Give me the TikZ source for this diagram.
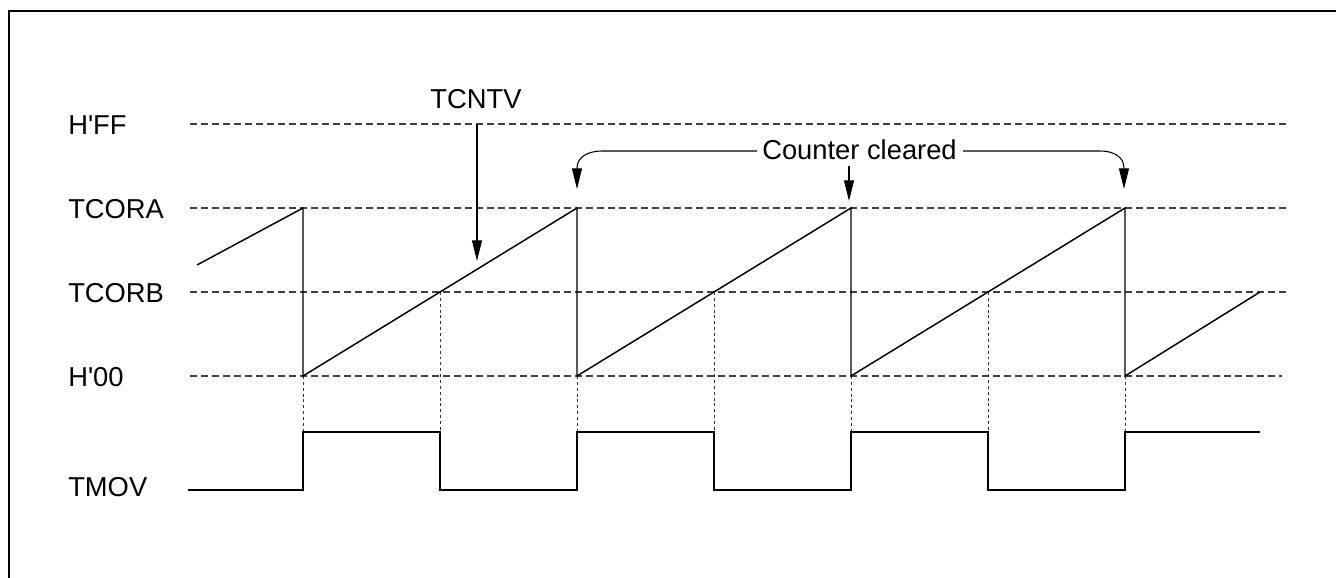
\documentclass[tikz,border=0pt]{standalone}
\usepackage{fontspec}
\setmainfont{Liberation Sans}
\usetikzlibrary{arrows.meta}
\begin{document}
\begin{tikzpicture}[x=0.75pt,y=-0.75pt,
  lbl/.style={font=\fontsize{20.5}{24}\selectfont,inner sep=0pt},
  levelline/.style={line width=0.8pt,draw=black!75,dash pattern=on 5.25pt off 3pt},
  guide/.style={line width=0.6pt,draw=black!80,dash pattern=on 2.2pt off 2.2pt},
  sig/.style={line width=1.1pt,line join=miter},
  pointer/.style={line width=0.8pt,-{Triangle[length=15.5pt,width=7.5pt]}}]
\useasboundingbox (0,0) rectangle (1336,578);
% frame
\draw[line width=1.5pt] (9,578) -- (9,11) -- (1336,11);
% level labels
\node[lbl,anchor=base west] (hff) at (68,134.5) {H\textquotesingle FF};
\node[lbl,anchor=base west] (tcora) at (68,218.5) {TCORA};
\node[lbl,anchor=base west] (tcorb) at (68,302.5) {TCORB};
\node[lbl,anchor=base west] (h00) at (68,386.5) {H\textquotesingle 00};
\node[lbl,anchor=base west] (tmov) at (68,496) {TMOV};
% level lines
\draw[levelline] (190,124) -- (1288,124);
\draw[levelline] (190,208) -- (1288,208);
\draw[levelline] (190,292) -- (1288,292);
\draw[levelline] (190,376) -- (1282,376);
% guide dotted verticals
\foreach \x in {303,577,851,1125} \draw[guide] (\x,376) -- (\x,432);
\foreach \x in {440,714,988} \draw[guide] (\x,292) -- (\x,432);
% sawtooth
\draw[sig] (197,265) -- (303,208) -- (303,376) -- (577,208) -- (577,376)
  -- (851,208) -- (851,376) -- (1125,208) -- (1125,376) -- (1260,292);
% TMOV
\draw[sig] (188,490) -- (303,490) -- (303,432) -- (440,432) -- (440,490)
  -- (577,490) -- (577,432) -- (714,432) -- (714,490) -- (851,490)
  -- (851,432) -- (988,432) -- (988,490) -- (1125,490) -- (1125,432) -- (1260,432);
% TCNTV
\node[lbl,anchor=base] (tcntv) at (476,108) {TCNTV};
\coordinate (tcntvtip) at (477,261);
\draw[pointer] (477,124) -- (tcntvtip);
% Counter cleared
\node[lbl,anchor=base west] (cc) at (762,159.5) {Counter cleared};
\coordinate (cl) at (577,189);
\coordinate (cm) at (849,201);
\coordinate (cr) at (1124,189);
\draw[pointer] (cc.west |- 0,151) ++(-5,0) -- (602,151) .. controls (588,151) and (577,157) .. (577,168) -- (cl);
\draw[pointer] (cc.east |- 0,151) ++(6,0) -- (1100,151) .. controls (1114,151) and (1124,157) .. (1124,168) -- (cr);
\draw[pointer] (849,166) -- (cm);
\end{tikzpicture}
\end{document}
